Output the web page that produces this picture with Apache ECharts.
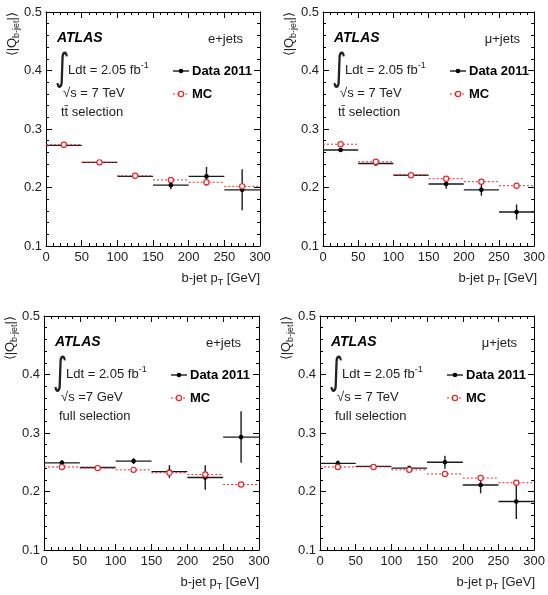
<!DOCTYPE html>
<html>
<head>
<meta charset="utf-8">
<script src="https://cdn.jsdelivr.net/npm/echarts@6/dist/echarts.min.js"></script>
<style>
  html, body { margin: 0; padding: 0; background: #fff; }
  #chart { width: 548px; height: 595px; }
</style>
</head>
<body>
<div id="chart"></div>
<script>
// bins in b-jet pT [GeV]
const binEdges = [0, 50, 100, 150, 200, 250, 300];
const yTicks = [0.1, 0.2, 0.3, 0.4, 0.5];

// e+jets, ttbar selection
const ejTtData = [0.272, 0.243, 0.219, 0.204, 0.219, 0.196];
const ejTtErr = [0.003, 0.003, 0.004, 0.007, 0.016, 0.035];
const ejTtMC = [0.273, 0.243, 0.220, 0.213, 0.209, 0.202];

// mu+jets, ttbar selection
const mjTtData = [0.264, 0.241, 0.221, 0.206, 0.196, 0.158];
const mjTtErr = [0.003, 0.003, 0.003, 0.008, 0.010, 0.013];
const mjTtMC = [0.274, 0.244, 0.221, 0.215, 0.210, 0.203];

// e+jets, full selection
const ejFullData = [0.249, 0.241, 0.252, 0.234, 0.224, 0.293];
const ejFullErr = [0.005, 0.004, 0.005, 0.011, 0.021, 0.044];
const ejFullMC = [0.242, 0.240, 0.237, 0.232, 0.229, 0.212];

// mu+jets, full selection
const mjFullData = [0.248, 0.243, 0.240, 0.250, 0.211, 0.183];
const mjFullErr = [0.005, 0.003, 0.004, 0.011, 0.014, 0.030];
const mjFullMC = [0.242, 0.242, 0.237, 0.230, 0.223, 0.215];

const panels = [
  { data: ejTtData, err: ejTtErr, mc: ejTtMC, channel: 'e+jets', energy: '√s = 7 TeV', sel: 'tt\u0304 selection' },
  { data: mjTtData, err: mjTtErr, mc: mjTtMC, channel: 'μ+jets', energy: '√s = 7 TeV', sel: 'tt\u0304 selection' },
  { data: ejFullData, err: ejFullErr, mc: ejFullMC, channel: 'e+jets', energy: '√s =7 GeV', sel: 'full selection' },
  { data: mjFullData, err: mjFullErr, mc: mjFullMC, channel: 'μ+jets', energy: '√s = 7 TeV', sel: 'full selection' }
];

const boxes = [
  { left: 46, top: 12, width: 214, height: 234 },
  { left: 323, top: 12, width: 214, height: 234 },
  { left: 44, top: 316, width: 215, height: 234 },
  { left: 320, top: 316, width: 215, height: 234 }
];

const FONT = '"Liberation Sans", Arial, Helvetica, sans-serif';
const RED = '#e8262b';

const chart = echarts.init(document.getElementById('chart'));

function dataItem(p, i) {
  const lo = binEdges[i], hi = binEdges[i + 1];
  return [(lo + hi) / 2, p.data[i], p.err[i], lo, hi];
}
function mcItem(p, i) {
  const lo = binEdges[i], hi = binEdges[i + 1];
  return [(lo + hi) / 2, p.mc[i], lo, hi];
}

function renderData(params, api) {
  const x = api.value(0), y = api.value(1), e = api.value(2);
  const l = api.coord([api.value(3), y]);
  const r = api.coord([api.value(4), y]);
  const t = api.coord([x, y + e]);
  const b = api.coord([x, y - e]);
  const c = api.coord([x, y]);
  const st = { stroke: '#1a1a1a', lineWidth: 1.4 };
  return {
    type: 'group',
    children: [
      { type: 'line', shape: { x1: l[0], y1: l[1], x2: r[0], y2: r[1] }, style: st },
      { type: 'line', shape: { x1: t[0], y1: t[1], x2: b[0], y2: b[1] }, style: st },
      { type: 'circle', shape: { cx: c[0], cy: c[1], r: 2.3 }, style: { fill: '#000' } }
    ]
  };
}

function renderMC(params, api) {
  const y = api.value(1);
  const l = api.coord([api.value(2), y]);
  const r = api.coord([api.value(3), y]);
  const c = api.coord([api.value(0), y]);
  return {
    type: 'group',
    children: [
      { type: 'line', shape: { x1: l[0], y1: l[1], x2: r[0], y2: r[1] },
        style: { stroke: RED, lineWidth: 1, lineDash: [2, 2] } },
      { type: 'circle', shape: { cx: c[0], cy: c[1], r: 2.6 },
        style: { fill: '#fff', stroke: RED, lineWidth: 1.2 } }
    ]
  };
}

const grid = [], xAxis = [], yAxis = [], series = [], graphic = [];

boxes.forEach((bx, k) => {
  const p = panels[k];
  grid.push({ left: bx.left, top: bx.top, width: bx.width, height: bx.height });
  const tickBase = { show: true, inside: true, lineStyle: { color: '#000', width: 1 } };
  const xBase = {
    type: 'value', gridIndex: k, min: binEdges[0], max: binEdges[binEdges.length - 1], interval: 50,
    axisLine: { show: true, onZero: false, lineStyle: { color: '#000', width: 1 } },
    axisTick: Object.assign({ length: 6 }, tickBase),
    minorTick: { show: true, splitNumber: 5, length: 3, lineStyle: { color: '#000' } },
    splitLine: { show: false }
  };
  xAxis.push(Object.assign({}, xBase, {
    position: 'bottom',
    axisLabel: { show: true, margin: 5, color: '#222', fontSize: 13, fontFamily: FONT }
  }));
  xAxis.push(Object.assign({}, xBase, { position: 'top', axisLabel: { show: false } }));
  const yBase = {
    type: 'value', gridIndex: k, min: yTicks[0], max: yTicks[yTicks.length - 1], interval: 0.1,
    axisLine: { show: true, onZero: false, lineStyle: { color: '#000', width: 1 } },
    axisTick: Object.assign({ length: 6 }, tickBase),
    minorTick: { show: true, splitNumber: 5, length: 3, lineStyle: { color: '#000' } },
    splitLine: { show: false }
  };
  yAxis.push(Object.assign({}, yBase, {
    position: 'left',
    axisLabel: { show: true, margin: 4, color: '#222', fontSize: 13, fontFamily: FONT,
      formatter: v => v.toFixed(1) }
  }));
  yAxis.push(Object.assign({}, yBase, { position: 'right', axisLabel: { show: false } }));

  series.push({
    name: 'Data 2011', type: 'custom', xAxisIndex: 2 * k, yAxisIndex: 2 * k,
    renderItem: renderData, data: p.data.map((_, i) => dataItem(p, i)),
    encode: { x: 0, y: 1 }, z: 3, silent: true
  });
  series.push({
    name: 'MC', type: 'custom', xAxisIndex: 2 * k, yAxisIndex: 2 * k,
    renderItem: renderMC, data: p.mc.map((_, i) => mcItem(p, i)),
    encode: { x: 0, y: 1 }, z: 4, silent: true
  });

  const L = bx.left, T = bx.top;
  const txt = (x, y, text, extra) => graphic.push({
    type: 'text', x, y, silent: true,
    style: Object.assign({ text, fill: '#222', font: '12px ' + FONT, verticalAlign: 'middle' }, extra || {})
  });
  txt(L + 11, T + 26, 'ATLAS', { font: 'italic bold 14px ' + FONT, fill: '#000' });
  txt(L + 197, T + 27, p.channel, { align: 'right', font: '13px ' + FONT });
  // integral sign, stretched to match the tall ROOT glyph
  graphic.push({
    type: 'text', x: L + 9, y: T + 58, scaleY: 1.35, silent: true,
    style: { text: '∫', fill: '#222', font: '28px "DejaVu Sans", sans-serif', verticalAlign: 'middle' }
  });
  graphic.push({
    type: 'text', x: L + 22, y: T + 58, silent: true,
    style: {
      text: '{n|Ldt = 2.05 fb}{s|-1}', verticalAlign: 'middle',
      rich: {
        n: { font: '13px ' + FONT, fill: '#222' },
        s: { font: '9px ' + FONT, fill: '#222', verticalAlign: 'top', padding: [0, 0, 8, 0] }
      }
    }
  });
  txt(L + 17, T + 81, p.energy, { font: '13px ' + FONT });
  txt(L + 15, T + 100, p.sel, { font: '13px ' + FONT });

  // legend
  const lx = L + 127;
  graphic.push({ type: 'line', silent: true, shape: { x1: lx, y1: T + 59, x2: lx + 16, y2: T + 59 },
    style: { stroke: '#1a1a1a', lineWidth: 1.4 } });
  graphic.push({ type: 'circle', silent: true, shape: { cx: lx + 8, cy: T + 59, r: 2.3 }, style: { fill: '#000' } });
  txt(lx + 19, T + 59, 'Data 2011', { font: 'bold 13px ' + FONT, fill: '#000' });
  graphic.push({ type: 'line', silent: true, shape: { x1: lx, y1: T + 82, x2: lx + 16, y2: T + 82 },
    style: { stroke: RED, lineWidth: 1, lineDash: [2, 2] } });
  graphic.push({ type: 'circle', silent: true, shape: { cx: lx + 8, cy: T + 82, r: 2.6 },
    style: { fill: '#fff', stroke: RED, lineWidth: 1.2 } });
  txt(lx + 19, T + 82, 'MC', { font: 'bold 13px ' + FONT, fill: '#000' });

  // axis titles
  graphic.push({
    type: 'text', x: L + bx.width, y: T + bx.height + 32, silent: true,
    style: {
      text: '{n|b-jet p}{s|T}{n| [GeV]}', align: 'right', verticalAlign: 'middle',
      rich: {
        n: { font: '13px ' + FONT, fill: '#222' },
        s: { font: '9px ' + FONT, fill: '#222', padding: [9, 0, 0, 0] }
      }
    }
  });
  graphic.push({
    type: 'text', x: L - 34, y: T, rotation: Math.PI / 2, silent: true,
    style: {
      text: '{n|⟨|Q}{s|b-jet}{n||⟩}', align: 'right', verticalAlign: 'middle',
      rich: {
        n: { font: '13px ' + FONT, fill: '#222' },
        s: { font: '9px ' + FONT, fill: '#222', padding: [9, 0, 0, 0] }
      }
    }
  });
});

chart.setOption({
  animation: false,
  backgroundColor: '#fff',
  grid, xAxis, yAxis, series, graphic
});
</script>
</body>
</html>
